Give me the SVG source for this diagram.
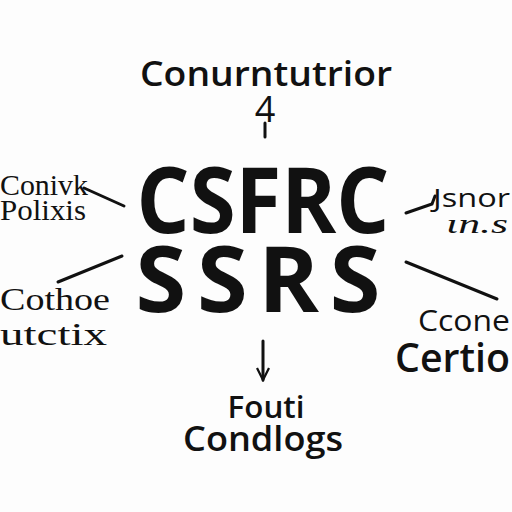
<svg xmlns="http://www.w3.org/2000/svg" width="512" height="512" viewBox="0 0 512 512">
<style>
.sans{font-family:"Open Sans","DejaVu Sans",sans-serif;fill:#111}
.serif{font-family:"Liberation Serif","DejaVu Serif",serif;fill:#111}
.ln{stroke:#111;stroke-width:3;fill:none;stroke-linecap:round}
</style>
<defs>
<marker id="ah" viewBox="0 0 10 10" refX="9" refY="5" markerWidth="5" markerHeight="5" orient="auto"><path d="M1 1 L9 5 L1 9" fill="none" stroke="#111" stroke-width="1.5"/></marker>
</defs>
<rect width="512" height="512" fill="#fdfdfd"/>
<g id="connectors">
<line class="ln" x1="265" y1="123" x2="265" y2="137"/>
<line class="ln" x1="84" y1="188" x2="124" y2="206"/>
<line class="ln" x1="58" y1="282" x2="122" y2="256"/>
<polyline class="ln" points="406,213 432,204 435,196"/>
<line class="ln" x1="406" y1="262" x2="497" y2="299"/>
<line class="ln" x1="263" y1="341" x2="263" y2="380" marker-end="url(#ah)"/>
</g>
<g id="top"><text class="sans" x="266" y="86" font-size="34" font-weight="600" text-anchor="middle" textLength="252" lengthAdjust="spacingAndGlyphs">Conurntutrior</text>
<text class="sans" x="265" y="122" font-size="36" text-anchor="middle">4</text></g>
<g id="center">
<text class="sans" x="263" y="233" font-size="92" font-weight="700" text-anchor="middle" textLength="253" lengthAdjust="spacingAndGlyphs">CSFRC</text>
<text class="sans" x="258" y="312" font-size="92" font-weight="700" text-anchor="middle" textLength="245" lengthAdjust="spacing">SSRS</text>
</g>
<g id="left-top"><text class="serif" x="0" y="195" font-size="29" textLength="88" lengthAdjust="spacingAndGlyphs">Conivk</text>
<text class="serif" x="0" y="220" font-size="29" textLength="86" lengthAdjust="spacingAndGlyphs">Polixis</text></g>
<g id="left-bottom"><text class="serif" x="0" y="310" font-size="32" textLength="110" lengthAdjust="spacingAndGlyphs">Cothoe</text>
<text class="serif" x="0" y="345" font-size="32" textLength="107" lengthAdjust="spacingAndGlyphs">utctix</text></g>
<g id="right-top"><text class="sans" x="433" y="207" font-size="25" textLength="77" lengthAdjust="spacingAndGlyphs">Jsnor</text>
<text class="serif" x="446" y="233" font-size="28" font-style="italic" textLength="62" lengthAdjust="spacingAndGlyphs">ɩn.s</text></g>
<g id="right-bottom"><text class="sans" x="418" y="331" font-size="30" textLength="92" lengthAdjust="spacingAndGlyphs">Ccone</text>
<text class="sans" x="395" y="372" font-size="40" font-weight="600" textLength="115" lengthAdjust="spacingAndGlyphs">Certio</text></g>
<g id="bottom"><text class="sans" x="266" y="418" font-size="30" font-weight="600" text-anchor="middle" textLength="77" lengthAdjust="spacingAndGlyphs">Fouti</text>
<text class="sans" x="263" y="451" font-size="35" font-weight="600" text-anchor="middle" textLength="160" lengthAdjust="spacingAndGlyphs">Condlogs</text></g>
</svg>
